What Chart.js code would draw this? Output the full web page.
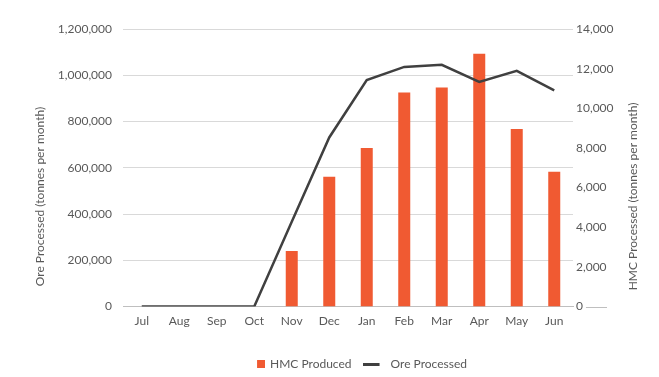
<!DOCTYPE html>
<html>
<head>
<meta charset="utf-8">
<script src="https://cdn.jsdelivr.net/npm/chart.js@4/dist/chart.umd.min.js"></script>
<style>
  html, body { margin: 0; padding: 0; background: #fff; }
  #wrap { width: 659px; height: 377px; }
</style>
</head>
<body>
<div id="wrap"><canvas id="myChart"></canvas></div>
<script>
const months = ['Jul', 'Aug', 'Sep', 'Oct', 'Nov', 'Dec', 'Jan', 'Feb', 'Mar', 'Apr', 'May', 'Jun'];

// HMC produced, tonnes per month (right axis)
const hmcProduced = [0, 0, 0, 0, 2800, 6550, 8000, 10800, 11050, 12750, 8950, 6800];

// Ore processed, tonnes per month (left axis)
const oreProcessed = [0, 0, 0, 0, 367000, 731000, 979000, 1036000, 1045000, 971000, 1019000, 935000];

const oreTicks = [0, 200000, 400000, 600000, 800000, 1000000, 1200000];
const hmcTicks = [0, 2000, 4000, 6000, 8000, 10000, 12000, 14000];

const oreTitle = 'Ore Processed (tonnes per month)';
const hmcTitle = 'HMC Processed (tonnes per month)';

const textColor = '#595959';
const barColor = '#F05A32';
const lineColor = '#404040';
const fontFamily = 'Lato, "Open Sans", sans-serif';

Chart.defaults.font.family = fontFamily;
Chart.defaults.font.size = 12;
Chart.defaults.color = textColor;

// legend swatches: the coloured part is placed inside a wider transparent
// canvas so the gaps around it come out right
function swatch(w, h, color, fx, fw) {
  const c = document.createElement('canvas');
  c.width = w;
  c.height = h;
  const g = c.getContext('2d');
  g.fillStyle = color;
  g.fillRect(fx, 0, fw, h);
  return c;
}
const barSwatch = swatch(25, 8, barColor, 17, 8);
const lineSwatch = swatch(21, 3, lineColor, 0, 17);

// both axis titles read bottom-to-top, the category axis line runs on
// past the right-hand labels, and the legend sits a little right of centre
const axisExtras = {
  id: 'axisExtras',
  afterLayout(chart) {
    chart.legend.left += 17.5;
    chart.legend.right += 17.5;
  },
  afterDraw(chart) {
    const {ctx, chartArea, width} = chart;
    const y1 = chart.scales.y1;
    const y = Math.round(y1.getPixelForValue(0)) + 0.5;
    ctx.save();
    ctx.font = '12px ' + fontFamily;
    const x0 = chartArea.right + 3 + ctx.measureText('0').width + 3;
    ctx.strokeStyle = '#bfbfbf';
    ctx.lineWidth = 1;
    ctx.beginPath();
    ctx.moveTo(x0, y);
    ctx.lineTo(chartArea.right + 34, y);
    ctx.stroke();

    const midY = chartArea.bottom - 110;
    ctx.fillStyle = textColor;
    ctx.textAlign = 'center';
    ctx.textBaseline = 'middle';
    [[40, oreTitle], [width - 26, hmcTitle]].forEach(([tx, text]) => {
      ctx.save();
      ctx.translate(tx, midY);
      ctx.rotate(-Math.PI / 2);
      ctx.fillText(text, 0, 0);
      ctx.restore();
    });
    ctx.restore();
  }
};

const data = {
  labels: months,
  datasets: [
    {
      type: 'bar',
      label: 'HMC Produced',
      data: hmcProduced,
      backgroundColor: barColor,
      yAxisID: 'y1',
      barPercentage: 0.32,
      categoryPercentage: 1,
      pointStyle: barSwatch,
      order: 2
    },
    {
      type: 'line',
      label: 'Ore Processed',
      data: oreProcessed,
      borderColor: lineColor,
      backgroundColor: lineColor,
      borderWidth: 2.5,
      pointRadius: 0,
      tension: 0,
      yAxisID: 'y',
      pointStyle: lineSwatch,
      order: 1
    }
  ]
};

const config = {
  data: data,
  options: {
    responsive: true,
    maintainAspectRatio: false,
    animation: false,
    layout: {
      padding: { top: 29, left: 29, right: 15, bottom: -3 }
    },
    plugins: {
      legend: {
        position: 'bottom',
        labels: {
          usePointStyle: true,
          pointStyleWidth: 23,
          boxHeight: 8,
          padding: 10,
          color: textColor,
          sort: (a, b) => a.datasetIndex - b.datasetIndex
        }
      },
      tooltip: { enabled: false }
    },
    scales: {
      x: {
        grid: { display: false, drawTicks: false },
        border: { display: true, color: '#bfbfbf' },
        ticks: { padding: 7, color: textColor },
        afterFit: s => { s.height = 41.5; }
      },
      y: {
        position: 'left',
        min: 0,
        max: 1200000,
        afterBuildTicks: s => { s.ticks = oreTicks.map(v => ({ value: v })); },
        ticks: {
          padding: 11,
          color: textColor,
          callback: v => v.toLocaleString('en-US')
        },
        grid: { color: '#d9d9d9', drawTicks: false },
        border: { display: false },
        afterFit: s => { s.width = 94; }
      },
      y1: {
        position: 'right',
        min: 0,
        max: 14000,
        afterBuildTicks: s => { s.ticks = hmcTicks.map(v => ({ value: v })); },
        ticks: {
          padding: 3,
          color: textColor,
          callback: v => v.toLocaleString('en-US')
        },
        grid: { display: false, drawTicks: false },
        border: { display: false },
        afterFit: s => { s.width = 71; }
      }
    }
  },
  plugins: [axisExtras]
};

/* draw it */
const myChart = new Chart(
  document.getElementById('myChart'),
  config
);
</script>
</body>
</html>
